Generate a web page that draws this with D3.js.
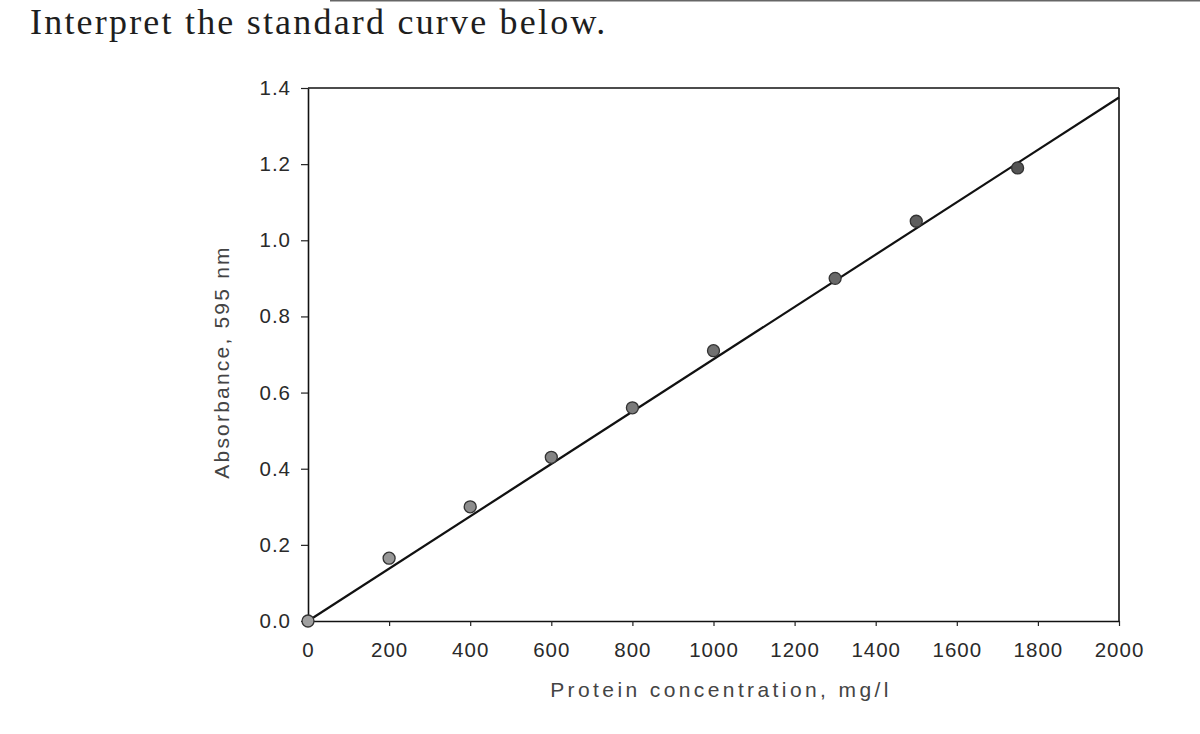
<!DOCTYPE html>
<html>
<head>
<meta charset="utf-8">
<script src="https://cdn.jsdelivr.net/npm/d3@7"></script>
<style>
  html, body { margin: 0; padding: 0; background: #ffffff; }
  svg { display: block; }
</style>
</head>
<body>
<svg id="chart" width="1200" height="734"></svg>
<script>
// ---- data ----
const pageTitle = "Interpret the standard curve below.";
const xLabel = "Protein concentration, mg/l";
const yLabel = "Absorbance, 595 nm";
const xTicks = [0, 200, 400, 600, 800, 1000, 1200, 1400, 1600, 1800, 2000];
const yTicks = [0.0, 0.2, 0.4, 0.6, 0.8, 1.0, 1.2, 1.4];
const concentration = [0, 200, 400, 600, 800, 1000, 1300, 1500, 1750];
const absorbance   = [0, 0.165, 0.30, 0.43, 0.56, 0.71, 0.90, 1.05, 1.19];
const fitX = [0, 2000];
const fitY = [0, 1.375];

// ---- layout ----
const W = 1200, H = 734;
const L = 308, R = 1119, T = 88, B = 621;
const svg = d3.select("#chart");
svg.append("rect").attr("width", W).attr("height", H).attr("fill", "#ffffff");

const x = d3.scaleLinear().domain([0, 2000]).range([L, R]);
const y = d3.scaleLinear().domain([0, 1.4]).range([B, T]);

// faint edge line at top of photo
svg.append("line")
  .attr("x1", 330).attr("x2", 1200).attr("y1", 0.5).attr("y2", 0.5)
  .attr("stroke", "#666").attr("stroke-width", 2);

// page heading
svg.append("text")
  .attr("x", 30).attr("y", 34)
  .attr("font-family", "'Liberation Serif', 'DejaVu Serif', serif")
  .attr("font-size", 36)
  .attr("letter-spacing", 2.2)
  .attr("fill", "#1e1e1e")
  .text(pageTitle);

// frame top and right
svg.append("line").attr("x1", L).attr("x2", R).attr("y1", T).attr("y2", T)
  .attr("stroke", "#111").attr("stroke-width", 1.6);
svg.append("line").attr("x1", R).attr("x2", R).attr("y1", T).attr("y2", B)
  .attr("stroke", "#111").attr("stroke-width", 1.6);

// axes
const fontFam = "'Liberation Sans', Arial, sans-serif";
const xAxis = svg.append("g").attr("transform", `translate(0,${B})`)
  .call(d3.axisBottom(x).tickValues(xTicks).tickFormat(d3.format("d"))
        .tickSize(5).tickPadding(16).tickSizeOuter(0));
const yAxis = svg.append("g").attr("transform", `translate(${L},0)`)
  .call(d3.axisLeft(y).tickValues(yTicks).tickFormat(d3.format(".1f"))
        .tickSize(7).tickPadding(10).tickSizeOuter(0));

[xAxis, yAxis].forEach(g => {
  g.select(".domain").attr("stroke", "#111").attr("stroke-width", 1.6);
  g.selectAll(".tick line").attr("stroke", "#222").attr("stroke-width", 1.2);
  g.selectAll(".tick text")
    .attr("font-family", fontFam)
    .attr("font-size", 20.5)
    .attr("letter-spacing", 1)
    .attr("fill", "#2a2a2a");
});

// fitted line
svg.append("path")
  .datum(fitX.map((d, i) => [d, fitY[i]]))
  .attr("d", d3.line().x(d => x(d[0])).y(d => y(d[1])))
  .attr("fill", "none")
  .attr("stroke", "#111")
  .attr("stroke-width", 2.2);

// data points
const shade = d3.scaleLinear().domain([0, concentration.length - 1]).range(["#a0a0a0", "#555555"]);
svg.append("g").selectAll("circle")
  .data(concentration.map((d, i) => ({ c: d, a: absorbance[i], i })))
  .join("circle")
  .attr("cx", d => x(d.c))
  .attr("cy", d => y(d.a))
  .attr("r", 6)
  .attr("fill", d => shade(d.i))
  .attr("stroke", "#333")
  .attr("stroke-width", 1.3);

// axis titles
svg.append("text")
  .attr("x", 721).attr("y", 697)
  .attr("text-anchor", "middle")
  .attr("font-family", fontFam)
  .attr("font-size", 21)
  .attr("letter-spacing", 3.4)
  .attr("fill", "#444")
  .text(xLabel);

svg.append("text")
  .attr("transform", "translate(229,362) rotate(-90)")
  .attr("text-anchor", "middle")
  .attr("font-family", fontFam)
  .attr("font-size", 21)
  .attr("letter-spacing", 2.2)
  .attr("fill", "#444")
  .text(yLabel);
</script>
</body>
</html>
